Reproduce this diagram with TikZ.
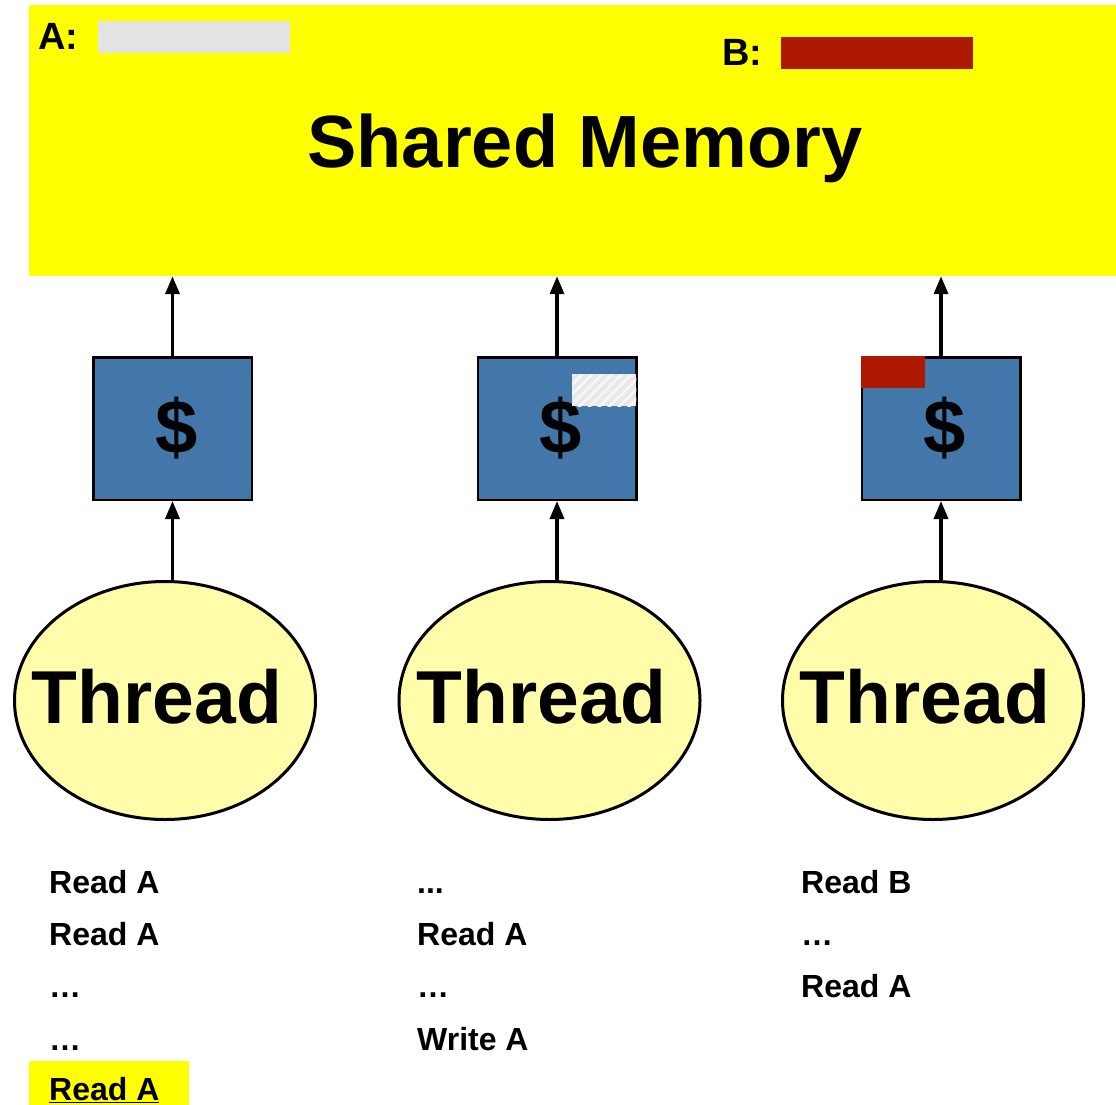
\documentclass[tikz,border=0pt]{standalone}
\usepackage{fontspec}
\setmainfont{Liberation Sans}
\usetikzlibrary{shapes.geometric,arrows.meta,patterns.meta}
\definecolor{memyellow}{RGB}{255,255,0}
\definecolor{cacheblue}{RGB}{67,119,169}
\definecolor{threadfill}{RGB}{255,252,170}
\definecolor{lineA}{RGB}{227,227,227}
\definecolor{lineB}{RGB}{173,24,0}
\begin{document}
\begin{tikzpicture}[x=1pt,y=-1pt,
    cache/.style={draw,line width=2.5pt,fill=cacheblue,minimum width=158.5pt,minimum height=142.5pt,inner sep=0pt,font=\fontsize{76}{76}\selectfont\bfseries},
    thread/.style={ellipse,draw,line width=3pt,fill=threadfill,minimum width=301pt,minimum height=238pt,inner sep=0pt},
    threadtext/.style={anchor=base,inner sep=0pt,font=\fontsize{75}{75}\selectfont\bfseries},
    memlabel/.style={anchor=base west,inner sep=0pt,font=\fontsize{38}{38}\selectfont\bfseries},
    bar/.style={minimum width=192pt,minimum height=32pt,inner sep=0pt},
    op/.style={anchor=base west,inner sep=0pt,font=\fontsize{32}{32}\selectfont\bfseries},
    up/.style={-{Triangle[length=18pt,width=14pt]},line width=3.5pt}]
        \useasboundingbox (0,0) rectangle (1116,1105);

        % shared memory
        \node[fill=memyellow,minimum width=1087pt,minimum height=271pt,inner sep=0pt] (mem) at (572.5,140.5) {};
        \node[anchor=base,inner sep=0pt,font=\fontsize{74}{74}\selectfont\bfseries] (title) at (585,167) {Shared Memory};
        \node[memlabel] (la) at (38,50) {A:};
        \node[bar,fill=lineA] (va) at (194,37) {};
        \node[memlabel] (lb) at (722,66) {B:};
        \node[bar,fill=lineB] (vb) at (877,53) {};

        % caches and threads
        \foreach \i/\cx/\tx in {1/172.5/165,2/557/549.5,3/941/933} {
            \node[cache] (c\i) at (\cx,428.5) {\hspace*{8pt}\$};
            \node[thread] (t\i) at (\tx,700.5) {};
            \node[threadtext] (tl\i) at (\tx-8,723) {Thread};
            \draw[up] (c\i.south |- t\i.north) -- (c\i.south);
            \draw[up] (c\i.north) -- (c\i.north |- mem.south);
        }
        \node[anchor=north east,minimum width=64pt,minimum height=32pt,inner sep=0pt,preaction={fill=black!9},
              pattern={Lines[angle=45,distance=7pt,line width=2.5pt]},pattern color=black!3] (h2) at ([yshift=-17pt]c2.north east) {};
        \node[anchor=north west,minimum width=64pt,minimum height=32pt,inner sep=0pt,fill=lineB] (r3) at (c3.north west) {};

        % operations
        \fill[memyellow] (29,1061) rectangle (189,1105);
{\node[op] (o11) at (49,893) {Read A};}
{\node[op] (o12) at (49,945.5) {Read A};}
{\node[op] (o13) at (49,997.5) {…};}
{\node[op] (o14) at (49,1050) {…};}
{\node[op] (o15) at (49,1100) {\underline{Read A}};}

{\node[op] (o21) at (417,893) {...};}
{\node[op] (o22) at (417,945.5) {Read A};}
{\node[op] (o23) at (417,997.5) {…};}
{\node[op] (o24) at (417,1050) {Write A};}

{\node[op] (o31) at (801,893) {Read B};}
{\node[op] (o32) at (801,945.5) {…};}
{\node[op] (o33) at (801,997.5) {Read A};}

\end{tikzpicture}
\end{document}
